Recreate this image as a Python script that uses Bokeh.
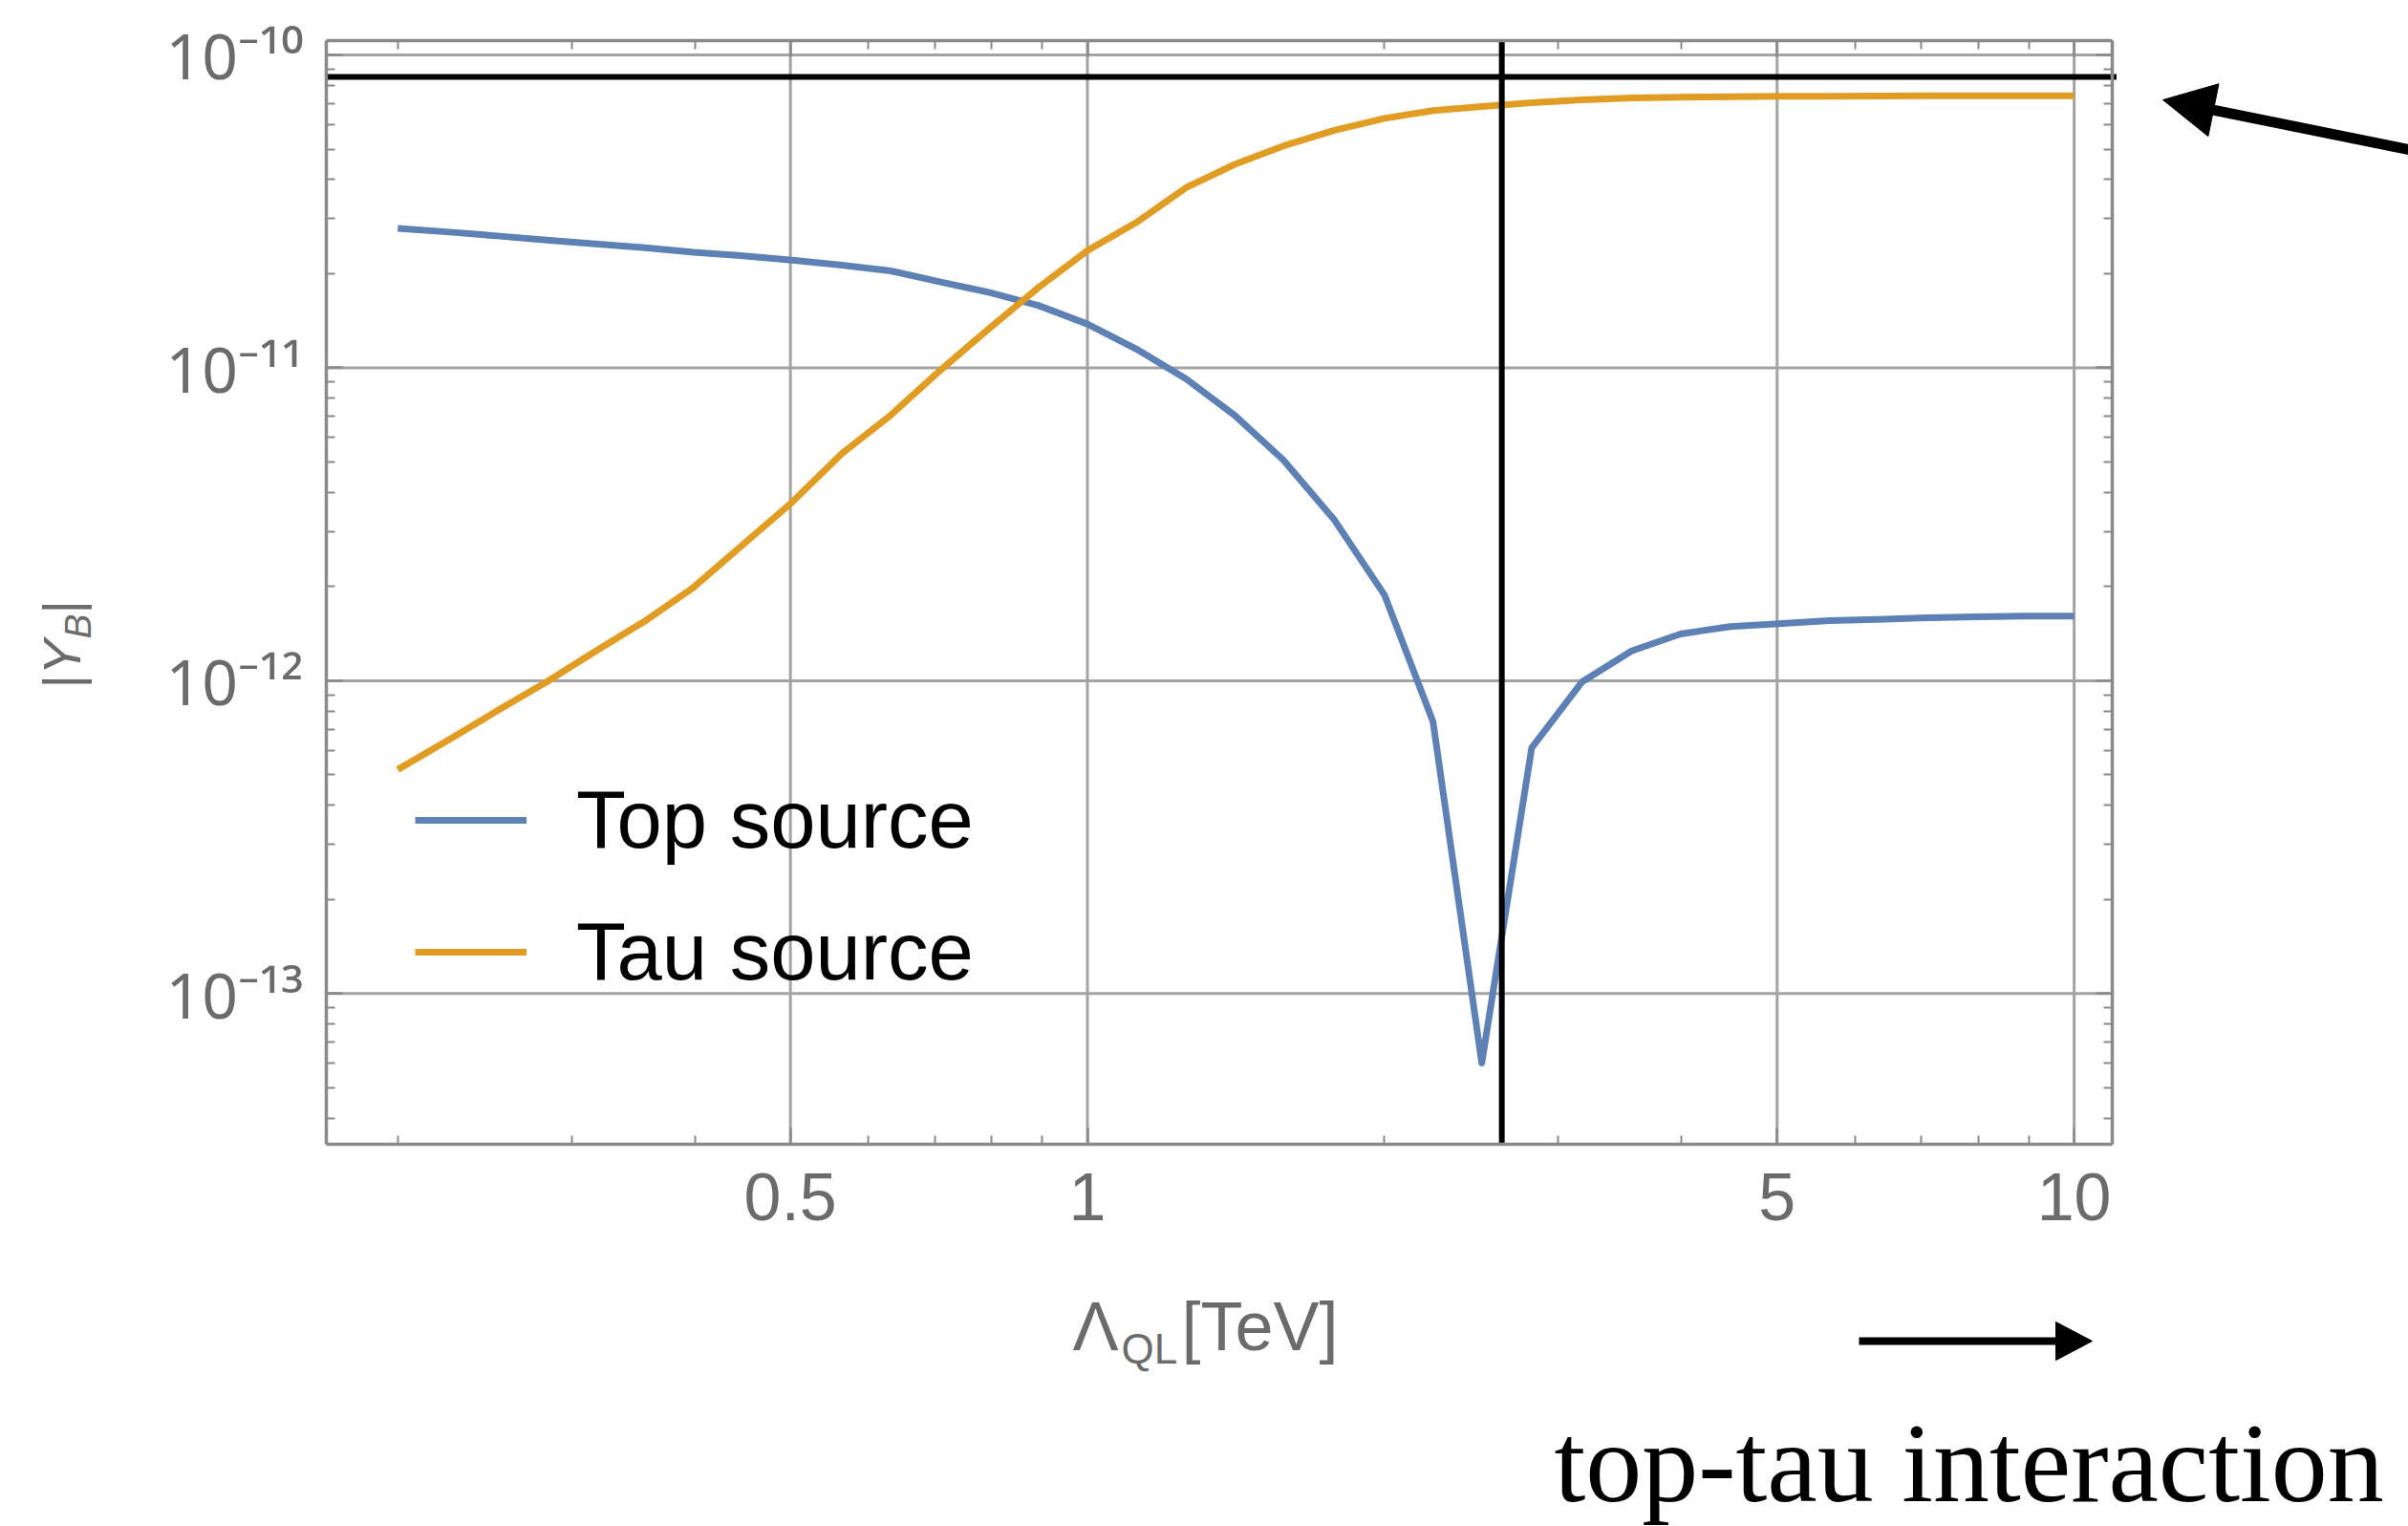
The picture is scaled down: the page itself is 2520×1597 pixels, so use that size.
import math
from bokeh.plotting import figure
from bokeh.models import (Range1d, FixedTicker, CustomJSTickFormatter, LogAxis,
                          Legend, LegendItem, Label)
from bokeh.embed import file_html
from bokeh.resources import INLINE

# ---------------- data ----------------
LAMBDA_QL = [0.2, 0.224, 0.252, 0.283, 0.317, 0.356, 0.399, 0.448, 0.502, 0.564,
             0.632, 0.71, 0.796, 0.893, 1.0, 1.12, 1.26, 1.41, 1.58, 1.78,
             2.0, 2.24, 2.51, 2.82, 3.17, 3.56, 3.99, 4.48, 5.02, 5.64,
             6.32, 7.1, 7.96, 8.93, 10.0]
TOP_SOURCE = [2.79e-11, 2.72e-11, 2.64e-11, 2.56e-11, 2.49e-11, 2.42e-11, 2.34e-11, 2.28e-11, 2.21e-11, 2.13e-11,
              2.04e-11, 1.88e-11, 1.74e-11, 1.58e-11, 1.38e-11, 1.15e-11, 9.2e-12, 7.05e-12, 5.07e-12, 3.26e-12,
              1.88e-12, 7.4e-13, 6.0e-14, 6.1e-13, 9.9e-13, 1.245e-12, 1.41e-12, 1.49e-12, 1.52e-12, 1.555e-12,
              1.57e-12, 1.59e-12, 1.60e-12, 1.61e-12, 1.61e-12]
TAU_SOURCE = [5.2e-13, 6.4e-13, 8.0e-13, 9.9e-13, 1.24e-12, 1.55e-12, 1.99e-12, 2.73e-12, 3.72e-12, 5.33e-12,
              7.06e-12, 9.84e-12, 1.34e-11, 1.81e-11, 2.37e-11, 2.91e-11, 3.77e-11, 4.47e-11, 5.12e-11, 5.74e-11,
              6.27e-11, 6.64e-11, 6.84e-11, 7.03e-11, 7.19e-11, 7.28e-11, 7.33e-11, 7.35e-11, 7.37e-11, 7.38e-11,
              7.39e-11, 7.4e-11, 7.4e-11, 7.4e-11, 7.4e-11]
SERIES_NAMES = ["Top source", "Tau source"]

OBSERVED_YB = 8.5e-11      # horizontal black reference line
LAMBDA_MARK = 2.63         # vertical black reference line (TeV)

X_TICKS = [0.5, 1, 5, 10]
X_TICK_LABELS = ["0.5", "1", "5", "10"]
X_MINOR = [0.2, 0.3, 0.4, 0.6, 0.7, 0.8, 0.9, 2, 3, 4, 6, 7, 8, 9]
Y_TICKS = [1e-13, 1e-12, 1e-11, 1e-10]
Y_TICK_LABELS = ["10\u207b\u00b9\u00b3", "10\u207b\u00b9\u00b2", "10\u207b\u00b9\u00b9", "10\u207b\u00b9\u2070"]
Y_MINOR_ALL = [m * 10.0 ** e for e in (-14, -13, -12, -11, -10) for m in range(2, 10)]

X_RANGE = (0.1693, 10.93)      # plotted x range (inside the frame box)
Y_RANGE = (3.30e-14, 1.111e-10)
Y_MINOR = [v for v in Y_MINOR_ALL if Y_RANGE[0] <= v <= Y_RANGE[1]]

# ---------------- layout (pixels of the 2520 x 1597 page) ----------------
W, H = 2520, 1597
BOX_L, BOX_R, BOX_T, BOX_B = 341, 2210, 42, 1197

lxa, lxb = math.log10(X_RANGE[0]), math.log10(X_RANGE[1])
lya, lyb = math.log10(Y_RANGE[0]), math.log10(Y_RANGE[1])
kx = (lxb - lxa) / (BOX_R - BOX_L)
ky = (lyb - lya) / (BOX_B - BOX_T)
OUT_X = (10 ** (lxa - BOX_L * kx), 10 ** (lxb + (W - BOX_R) * kx))
OUT_Y = (10 ** (lya - (H - BOX_B) * ky), 10 ** (lyb + BOX_T * ky))

def to_data(px, py):
    return 10 ** (lxa + (px - BOX_L) * kx), 10 ** (lya + (BOX_B - py) * ky)

# ---------------- styling ----------------
BLUE = "#5E81B5"
ORANGE = "#E19C24"
FRAME = "#8a8a8a"
GRID = "#a3a3a3"
TICK_TEXT = "#6b6b6b"
SANS = "Liberation Sans"

p = figure(width=W, height=H, x_axis_type="log", y_axis_type="log",
           x_range=Range1d(*OUT_X), y_range=Range1d(*OUT_Y),
           output_backend="svg", toolbar_location=None, min_border=0)
p.background_fill_color = "white"
p.border_fill_color = "white"
p.outline_line_color = None
p.xgrid.visible = False
p.ygrid.visible = False

xt = FixedTicker(ticks=X_TICKS, minor_ticks=X_MINOR)
yt = FixedTicker(ticks=Y_TICKS, minor_ticks=Y_MINOR)

fmt_code = """
let best = -1, bd = 1e9;
for (let i = 0; i < vals.length; i++) {
  const d = Math.abs(Math.log10(vals[i]) - Math.log10(tick));
  if (d < bd) { bd = d; best = i; }
}
return (bd < 1e-6) ? labs[best] : "";
"""

def style_axis(ax):
    ax.axis_line_color = FRAME
    ax.axis_line_width = 3.5
    ax.major_tick_line_color = FRAME
    ax.minor_tick_line_color = FRAME
    ax.major_tick_line_width = 2.5
    ax.minor_tick_line_width = 2
    ax.major_tick_in = 17
    ax.major_tick_out = 0
    ax.minor_tick_in = 9
    ax.minor_tick_out = 0

# ---- grid inside the box (drawn first) ----
p.segment(x0=X_TICKS, y0=[Y_RANGE[0]] * len(X_TICKS), x1=X_TICKS, y1=[Y_RANGE[1]] * len(X_TICKS),
          line_color=GRID, line_width=3)
p.segment(x0=[X_RANGE[0]] * len(Y_TICKS), y0=Y_TICKS, x1=[X_RANGE[1]] * len(Y_TICKS), y1=Y_TICKS,
          line_color=GRID, line_width=3)

# ---- axes fixed on the box edges ----
xa = p.xaxis[0]
xa.ticker = xt
xa.fixed_location = Y_RANGE[0]
xa.bounds = X_RANGE
xa.formatter = CustomJSTickFormatter(args=dict(vals=X_TICKS, labs=X_TICK_LABELS), code=fmt_code)
style_axis(xa)
xa.major_label_text_font = SANS
xa.major_label_text_font_size = "70px"
xa.major_label_text_color = TICK_TEXT
xa.major_label_standoff = 30

ya = p.yaxis[0]
ya.ticker = yt
ya.fixed_location = X_RANGE[0]
ya.bounds = Y_RANGE
ya.formatter = CustomJSTickFormatter(args=dict(vals=Y_TICKS, labs=Y_TICK_LABELS), code=fmt_code)
style_axis(ya)
ya.major_label_text_font = "Noto Sans"
ya.major_label_text_font_size = "66px"
ya.major_label_text_color = TICK_TEXT
ya.major_label_standoff = 24

for side, tk, loc, bnd in (("above", xt, Y_RANGE[1], X_RANGE), ("right", yt, X_RANGE[1], Y_RANGE)):
    ax = LogAxis(ticker=tk, formatter=CustomJSTickFormatter(code="return '';"),
                 fixed_location=loc, bounds=bnd)
    style_axis(ax)
    ax.major_label_text_font_size = "0px"
    ax.major_label_standoff = 0
    p.add_layout(ax, side)

# ---- curves ----
r_top = p.line(LAMBDA_QL, TOP_SOURCE, line_color=BLUE, line_width=7, line_join="round")
r_tau = p.line(LAMBDA_QL, TAU_SOURCE, line_color=ORANGE, line_width=7, line_join="round")

# ---- black reference lines across the box ----
p.line([X_RANGE[0], X_RANGE[1] * 1.01], [OBSERVED_YB, OBSERVED_YB], line_color="black", line_width=6)
p.line([LAMBDA_MARK, LAMBDA_MARK], list(Y_RANGE), line_color="black", line_width=6)

# ---- legend ----
legend = Legend(items=[LegendItem(label=SERIES_NAMES[0], renderers=[r_top]),
                       LegendItem(label=SERIES_NAMES[1], renderers=[r_tau])],
                location=(434, H - 1046))
legend.padding = 0
legend.margin = 0
legend.spacing = 38
legend.glyph_width = 117
legend.glyph_height = 100
legend.label_height = 100
legend.label_standoff = 52
legend.label_text_font = SANS
legend.label_text_font_size = "85px"
legend.label_text_color = "black"
legend.border_line_alpha = 0
legend.background_fill_alpha = 0
p.add_layout(legend)

# ---- texts: anchor = centre of the text box (page pixels, y from the top) ----
def lab(text, px, py, size, color=TICK_TEXT, font=SANS, style="normal", angle=0.0):
    p.add_layout(Label(x=px, y=H - py, x_units="screen", y_units="screen", text=text,
                       text_font=font, text_font_size=size, text_color=color,
                       text_font_style=style, angle=angle, text_align="left",
                       text_baseline="middle"))

# x-axis title  Λ_QL[TeV]
lab("\u039b", 1122, 1387, "72px")
lab("QL", 1173, 1411, "44px")
lab("[TeV]", 1236, 1387, "72px")

# y-axis title |Y_B| rotated
half_pi = math.pi / 2
lab("|", 64, 720, "56px", angle=half_pi)
lab("Y", 64, 706, "56px", style="italic", angle=half_pi)
lab("B", 81, 668, "39px", style="italic", angle=half_pi)
lab("|", 64, 642, "56px", angle=half_pi)

lab("top-tau interaction", 1626, 1531, "118px", color="black", font="Liberation Serif")

# ---- arrows drawn as a shaft line plus a filled triangular head ----
def arrow(tail, tip, head_len, head_w, width):
    dx, dy = tip[0] - tail[0], tip[1] - tail[1]
    n = math.hypot(dx, dy)
    ux, uy = dx / n, dy / n
    bx, by = tip[0] - ux * head_len, tip[1] - uy * head_len
    px_, py_ = -uy, ux
    shaft = [to_data(*tail), to_data(bx + ux * 4, by + uy * 4)]
    p.line([s[0] for s in shaft], [s[1] for s in shaft], line_color="black", line_width=width)
    tri = [to_data(*tip),
           to_data(bx + px_ * head_w / 2, by + py_ * head_w / 2),
           to_data(bx - px_ * head_w / 2, by - py_ * head_w / 2)]
    p.patch([t[0] for t in tri], [t[1] for t in tri], fill_color="black", line_color="black", line_width=1)

arrow((2530, 158), (2263, 104), 54, 56, 11)
arrow((1945, 1403), (2189, 1403), 38, 40, 8)

open("out.html", "w").write(file_html(p, INLINE))
